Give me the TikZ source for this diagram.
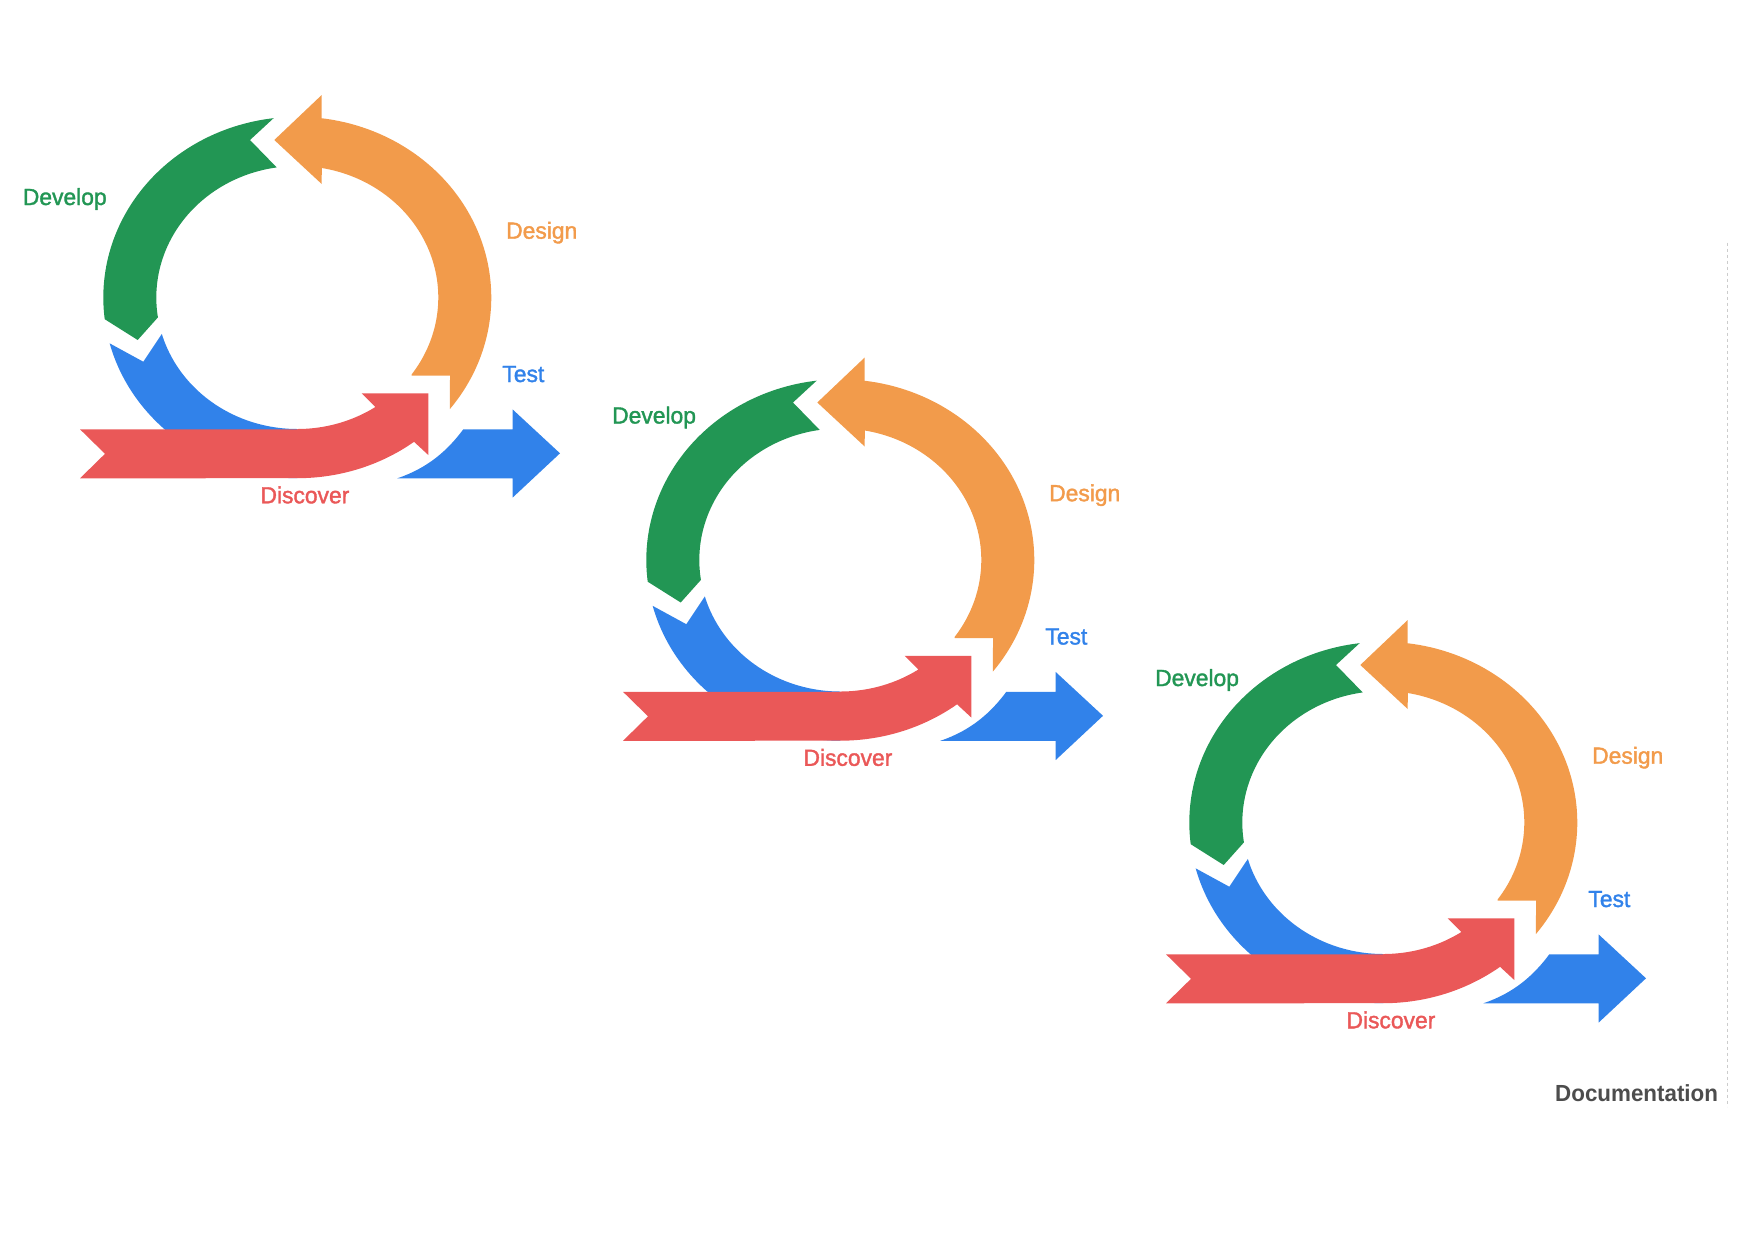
\documentclass[tikz,border=0pt]{standalone}
\usepackage{fontspec}
\newfontfamily\labfont{Liberation Sans}[FakeBold=1.6,FakeStretch=0.98]
\newfontfamily\docfont{Liberation Sans}[FakeStretch=0.96]
\definecolor{dgreen}{HTML}{229654}
\definecolor{dorange}{HTML}{F29B4B}
\definecolor{dblue}{HTML}{3182EA}
\definecolor{dred}{HTML}{EA5858}
\definecolor{dgray}{HTML}{4D4D4D}
\definecolor{lgray}{HTML}{CCCCCC}
\begin{document}
\begin{tikzpicture}[x=1pt,y=-1pt,
  lab/.style={anchor=base west,inner sep=0pt,font=\labfont\fontsize{23.3}{28}\selectfont},
  docstyle/.style={anchor=base west,inner sep=0pt,text=dgray,font=\docfont\bfseries\fontsize{23.3}{28}\selectfont},
  sepline/.style={draw=lgray,line width=1.5pt,dash pattern=on 3pt off 3pt}]
\useasboundingbox (0,0) rectangle (1762,1259);
\def\cx{297.3}\def\cy{297.5}\def\ox{194}\def\oy{180.7}\def\ix{141}\def\iy{131.5}
\foreach \i in {0,1,2}{
 \begin{scope}[shift={({543*\i},{262.5*\i})}]
  % Design (orange)
  \fill[dorange] (321.7,95) -- (321.7,118.2)
     -- plot[domain=-82.8:38.1,samples=70] ({\cx+\ox*cos(\x)},{\cy+\oy*sin(\x)})
     -- (450,375.7) -- (411.7,375.7)
     -- plot[domain=35.8:-80,samples=70] ({\cx+\ix*cos(\x)},{\cy+\iy*sin(\x)})
     -- (321.7,184) -- (274.3,140) -- cycle;
  % Develop (green)
  \fill[dgreen] plot[domain=-97:-186.9,samples=60] ({\cx+\ox*cos(\x)},{\cy+\oy*sin(\x)})
     -- (137.7,340)
     -- plot[domain=-188.7:-98.4,samples=60] ({\cx+\ix*cos(\x)},{\cy+\iy*sin(\x)})
     -- (250,140) -- cycle;
  % Test (blue ring)
  \fill[dblue] plot[domain=165.3:90,samples=50] ({\cx+\ox*cos(\x)},{\cy+\oy*sin(\x)})
     -- plot[domain=90:163.9,samples=50] ({\cx+\ix*cos(\x)},{\cy+\iy*sin(\x)})
     -- (143.3,361.7) -- cycle;
  % Discover (red)
  \fill[dred] (80,429.3) -- (297.3,429.3)
     -- plot[domain=90:56.4,samples=40] ({\cx+\ix*cos(\x)},{\cy+\iy*sin(\x)})
     -- (361.7,393.3) -- (428.3,393.3) -- (428.3,455)
     -- plot[domain=53:90,samples=40] ({\cx+\ox*cos(\x)},{\cy+\oy*sin(\x)})
     -- (80,478.3) -- (105,453.8) -- cycle;
  % Test (blue exit)
  \fill[dblue] (397.3,478.3) .. controls (428,468) and (448,450) .. (463.3,429.3)
     -- (512.5,429.3) -- (512.5,409.3) -- (560,453.3) -- (512.5,497.7)
     -- (512.5,478.3) -- cycle;
  \node[lab,text=dorange] (des\i) at (506,238.7) {Design};
  \node[lab,text=dblue] (tst\i) at (502.2,382) {Test};
  \node[lab,text=dred] (dis\i) at (260.3,503.3) {Discover};
 \end{scope}
}
\node[lab,text=dgreen] (dev0) at (22.7,205) {Develop};
\node[lab,text=dgreen] (dev1) at (612,423.5) {Develop};
\node[lab,text=dgreen] (dev2) at (1155,686) {Develop};
\node[docstyle] (doc) at (1555,1101.7) {Documentation};
\coordinate (sepTop) at (1727.7,242.7);
\coordinate (sepBot) at (1727.7,1106.7);
\draw[sepline] (sepTop) -- (sepBot);
\end{tikzpicture}
\end{document}
